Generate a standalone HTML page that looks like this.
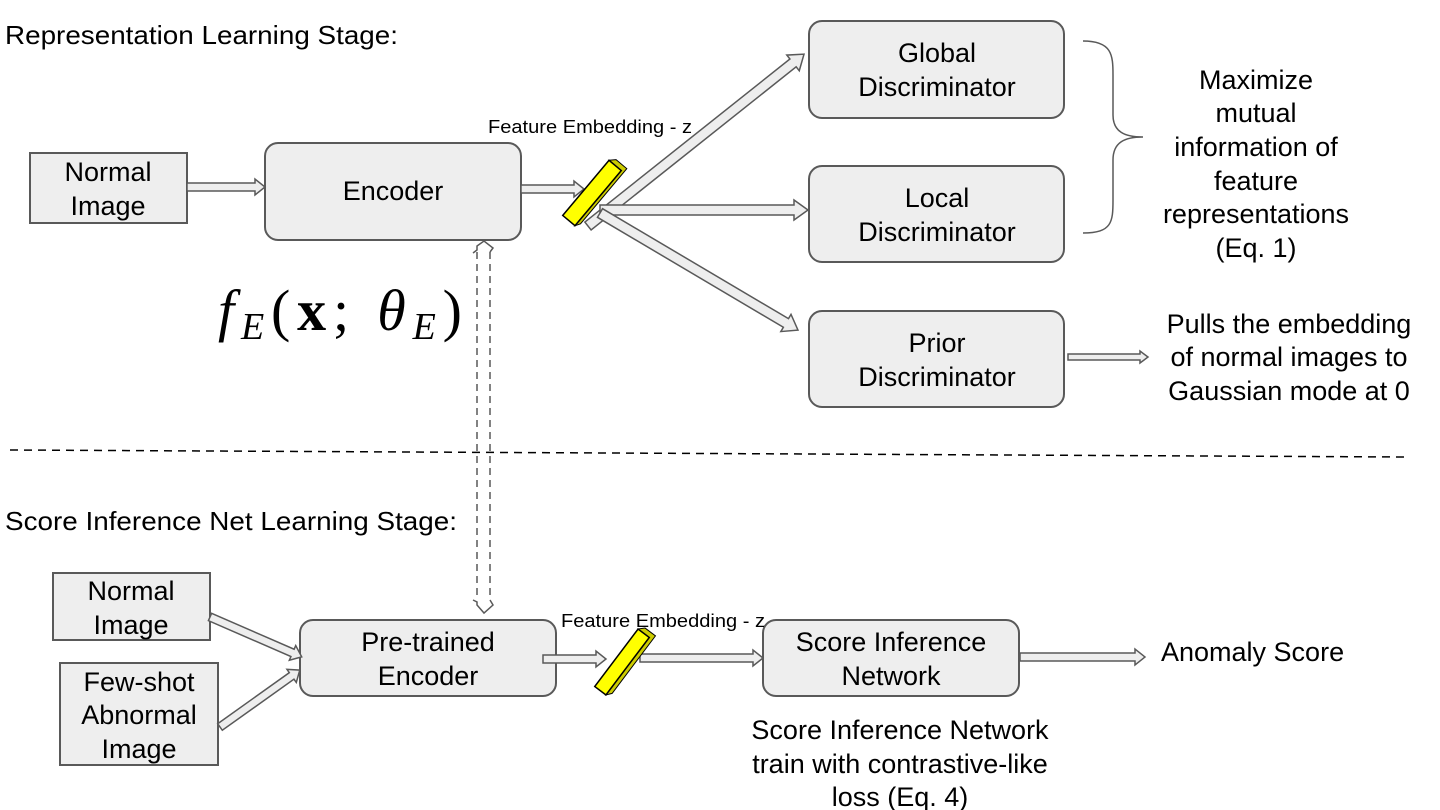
<!DOCTYPE html>
<html><head><meta charset="utf-8"><style>
html,body{margin:0;padding:0;background:#fff;}
svg{display:block;}
text{font-family:"Liberation Sans",sans-serif;fill:#000;}
.b{fill:#eeeeee;stroke:#595959;stroke-width:2;}
.a{fill:#eeeeee;stroke:#595959;stroke-width:1.5;}
.t{font-size:27px;text-anchor:middle;}
</style></head><body>
<svg width="1440" height="810" viewBox="0 0 1440 810" xmlns="http://www.w3.org/2000/svg">
<!-- boxes -->
<rect class="b" x="30" y="153" width="157" height="70"/>
<rect class="b" x="265" y="143" width="256" height="97" rx="13"/>
<rect class="b" x="809" y="21" width="255" height="97" rx="13"/>
<rect class="b" x="809" y="166" width="255" height="96" rx="13"/>
<rect class="b" x="809" y="311" width="255" height="96" rx="13"/>
<rect class="b" x="53" y="573" width="157" height="67"/>
<rect class="b" x="60" y="663" width="158" height="102"/>
<rect class="b" x="300" y="620" width="256" height="76" rx="13"/>
<rect class="b" x="763" y="620" width="256" height="76" rx="13"/>

<!-- block arrows -->
<g transform="translate(187,187)"><polygon class="a" points="0,-4 68,-4 68,-8 78,0 68,8 68,4 0,4"/></g>
<g transform="translate(521,189)"><polygon class="a" points="0,-4 53,-4 53,-8 63,0 53,8 53,4 0,4"/></g>
<g transform="translate(588,226) rotate(-38.5)"><polygon class="a" points="0,-5 262,-5 262,-10 276,0 262,10 262,5 0,5"/></g>
<g transform="translate(600,210)"><polygon class="a" points="0,-5 194,-5 194,-10 208,0 194,10 194,5 0,5"/></g>
<g transform="translate(600,213) rotate(30.6)"><polygon class="a" points="0,-5 216,-5 216,-10 230,0 216,10 216,5 0,5"/></g>
<g transform="translate(1068,357)"><polygon class="a" points="0,-3 72,-3 72,-6 80,0 72,6 72,3 0,3"/></g>
<g transform="translate(210,617) rotate(23.5)"><polygon class="a" points="0,-4 90,-4 90,-8 100,0 90,8 90,4 0,4"/></g>
<g transform="translate(220,727) rotate(-35.5)"><polygon class="a" points="0,-4 88,-4 88,-8 98,0 88,8 88,4 0,4"/></g>
<g transform="translate(543,659)"><polygon class="a" points="0,-4 53,-4 53,-8 63,0 53,8 53,4 0,4"/></g>
<g transform="translate(640,658)"><polygon class="a" points="0,-4 113,-4 113,-8 123,0 113,8 113,4 0,4"/></g>
<g transform="translate(1020,657)"><polygon class="a" points="0,-4 115,-4 115,-8 125,0 115,8 115,4 0,4"/></g>

<!-- yellow bars -->
<g transform="translate(592,193) rotate(-50)">
<polygon points="36,-8 41,-3 41,11 -31,11 -36,8 36,8" fill="#cccc00" stroke="#000" stroke-width="1"/>
<rect x="-36" y="-8" width="72" height="16" fill="#ffff00" stroke="#000" stroke-width="1.5"/>
</g>
<g transform="translate(622,662) rotate(-53)">
<polygon points="36,-7 41,-2 41,11 -31,11 -36,7 36,7" fill="#cccc00" stroke="#000" stroke-width="1"/>
<rect x="-36" y="-7" width="72" height="14" fill="#ffff00" stroke="#000" stroke-width="1.5"/>
</g>

<!-- dashed double arrow -->
<g fill="none" stroke="#595959" stroke-width="1.5" stroke-dasharray="7,5">
<line x1="477" y1="252" x2="477" y2="600"/>
<line x1="490" y1="252" x2="490" y2="600"/>
</g>
<g fill="none" stroke="#595959" stroke-width="1.5">
<polyline points="473,253 477,250 477,246 484,241 493,248 490,252"/>
<polyline points="473,600 477,602 477,605 484,613 493,605 490,600"/>
</g>

<!-- divider -->
<line x1="10" y1="450" x2="1405" y2="457" stroke="#000" stroke-width="1.5" stroke-dasharray="8,6"/>

<!-- brace -->
<path d="M1083,41 C1112,41 1113,55 1113,75 L1113,115 C1113,132 1125,137 1143,137 C1125,137 1113,142 1113,160 L1113,200 C1113,222 1112,233 1083,233" fill="none" stroke="#595959" stroke-width="1.5"/>

<!-- text -->
<text x="5" y="44" font-size="26" textLength="393" lengthAdjust="spacingAndGlyphs">Representation Learning Stage:</text>
<text x="5" y="530" font-size="26" textLength="452" lengthAdjust="spacingAndGlyphs">Score Inference Net Learning Stage:</text>
<text class="t" x="108" y="181">Normal</text><text class="t" x="108" y="215">Image</text>
<text class="t" x="393" y="200">Encoder</text>
<text class="t" x="937" y="62">Global</text><text class="t" x="937" y="96">Discriminator</text>
<text class="t" x="937" y="207">Local</text><text class="t" x="937" y="241">Discriminator</text>
<text class="t" x="937" y="352">Prior</text><text class="t" x="937" y="386">Discriminator</text>
<text x="488" y="133" font-size="18" textLength="204" lengthAdjust="spacingAndGlyphs">Feature Embedding - z</text>
<text x="561" y="627" font-size="18" textLength="204" lengthAdjust="spacingAndGlyphs">Feature Embedding - z</text>
<text class="t" x="1256" y="89">Maximize</text>
<text class="t" x="1256" y="122">mutual</text>
<text class="t" x="1256" y="156">information of</text>
<text class="t" x="1256" y="190">feature</text>
<text class="t" x="1256" y="223">representations</text>
<text class="t" x="1256" y="257">(Eq. 1)</text>
<text class="t" x="1289" y="333">Pulls the embedding</text>
<text class="t" x="1289" y="366">of normal images to</text>
<text class="t" x="1289" y="400">Gaussian mode at 0</text>
<text class="t" x="131" y="600">Normal</text><text class="t" x="131" y="634">Image</text>
<text class="t" x="139" y="691">Few-shot</text><text class="t" x="139" y="724">Abnormal</text><text class="t" x="139" y="758">Image</text>
<text class="t" x="428" y="651">Pre-trained</text><text class="t" x="428" y="685">Encoder</text>
<text class="t" x="891" y="651">Score Inference</text><text class="t" x="891" y="685">Network</text>
<text x="1161" y="661" font-size="27">Anomaly Score</text>
<text class="t" x="900" y="739">Score Inference Network</text>
<text class="t" x="900" y="773">train with contrastive-like</text>
<text class="t" x="900" y="806">loss (Eq. 4)</text>
<text x="218" y="330" font-size="58" style="font-family:'Liberation Serif',serif" textLength="244" lengthAdjust="spacing"><tspan font-style="italic">f</tspan><tspan font-style="italic" font-size="38" dy="9">E</tspan><tspan dy="-9">(</tspan><tspan font-weight="bold">x</tspan><tspan>;</tspan><tspan font-style="italic"> θ</tspan><tspan font-style="italic" font-size="38" dy="9">E</tspan><tspan dy="-9">)</tspan></text>
</svg>
</body></html>
